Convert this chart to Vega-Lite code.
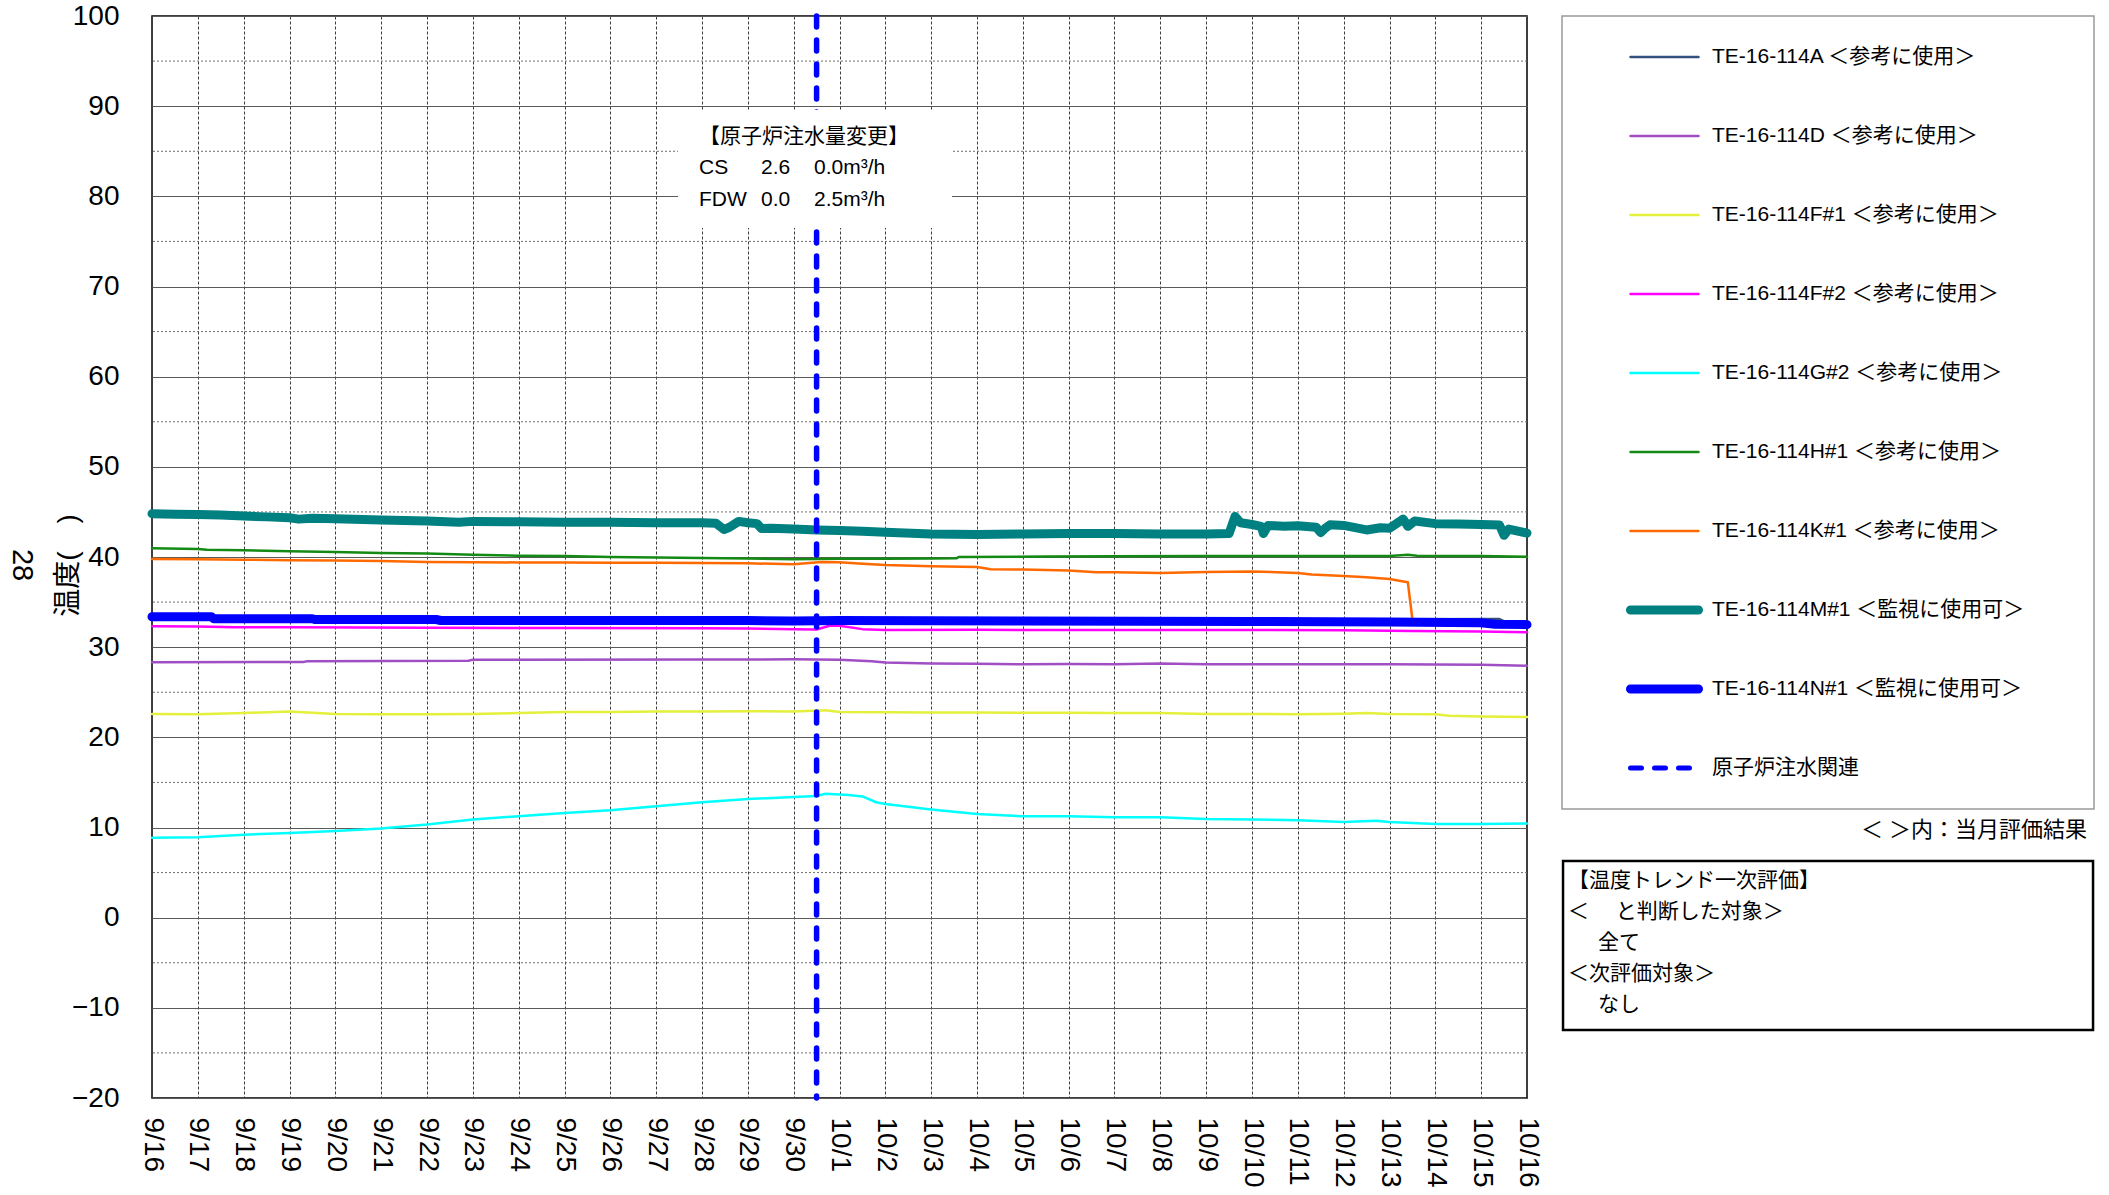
{
"$schema":"https://vega.github.io/schema/vega-lite/v6.json",
"width":1375,"height":1082,
"autosize":{"type":"none"},
"padding":{"left":152,"top":16,"right":582,"bottom":97},
"background":"white",
"config":{"font":"Liberation Sans, Noto Sans CJK JP","view":{"stroke":"#000","strokeWidth":1.5},"axis":{"domain":false,"ticks":false,"labelColor":"#000","labelFont":"Liberation Sans, Noto Sans CJK JP","titleFont":"Liberation Sans, Noto Sans CJK JP"}},
"layer":[
{"data":{"values":[{"minor":-15},{"minor":-5},{"minor":5},{"minor":15},{"minor":25},{"minor":35},{"minor":45},{"minor":55},{"minor":65},{"minor":75},{"minor":85},{"minor":95}]},
 "mark":{"type":"rule","color":"#6e6e6e","strokeWidth":1,"strokeDash":[2,2]},
 "encoding":{"y":{"field":"minor","type":"quantitative","title":"温度(　)"}}},
{"data":{"values":[{}]},
 "mark":{"type":"rect","fill":"white","stroke":"#9a9a9a","strokeWidth":1.5},
 "encoding":{"x":{"datum":{"year":2013,"month":10,"date":16,"hours":18,"minutes":20},"type":"temporal"},"x2":{"datum":{"year":2013,"month":10,"date":28,"hours":8,"minutes":54}},"y":{"datum":100,"type":"quantitative"},"y2":{"datum":12.05}}},
{"data":{"values":[
{"s":"TE-16-114A＜参考に使用＞","t":"2013-09-16T00:00","v":33.45},
{"s":"TE-16-114A＜参考に使用＞","t":"2013-09-20T00:00","v":33.25},
{"s":"TE-16-114A＜参考に使用＞","t":"2013-09-25T00:00","v":33.1},
{"s":"TE-16-114A＜参考に使用＞","t":"2013-10-01T00:00","v":33.05},
{"s":"TE-16-114A＜参考に使用＞","t":"2013-10-10T00:00","v":33.0},
{"s":"TE-16-114A＜参考に使用＞","t":"2013-10-13T12:00","v":33.1},
{"s":"TE-16-114A＜参考に使用＞","t":"2013-10-15T09:36","v":33.12},
{"s":"TE-16-114A＜参考に使用＞","t":"2013-10-15T12:00","v":32.85},
{"s":"TE-16-114A＜参考に使用＞","t":"2013-10-16T00:00","v":32.75},
{"s":"TE-16-114D＜参考に使用＞","t":"2013-09-16T00:00","v":28.33},
{"s":"TE-16-114D＜参考に使用＞","t":"2013-09-19T07:12","v":28.35},
{"s":"TE-16-114D＜参考に使用＞","t":"2013-09-19T09:36","v":28.45},
{"s":"TE-16-114D＜参考に使用＞","t":"2013-09-22T21:36","v":28.5},
{"s":"TE-16-114D＜参考に使用＞","t":"2013-09-23T00:00","v":28.6},
{"s":"TE-16-114D＜参考に使用＞","t":"2013-09-28T00:00","v":28.62},
{"s":"TE-16-114D＜参考に使用＞","t":"2013-09-30T00:00","v":28.65},
{"s":"TE-16-114D＜参考に使用＞","t":"2013-10-01T00:00","v":28.6},
{"s":"TE-16-114D＜参考に使用＞","t":"2013-10-01T16:48","v":28.45},
{"s":"TE-16-114D＜参考に使用＞","t":"2013-10-02T00:00","v":28.3},
{"s":"TE-16-114D＜参考に使用＞","t":"2013-10-03T00:00","v":28.2},
{"s":"TE-16-114D＜参考に使用＞","t":"2013-10-04T00:00","v":28.15},
{"s":"TE-16-114D＜参考に使用＞","t":"2013-10-05T00:00","v":28.1},
{"s":"TE-16-114D＜参考に使用＞","t":"2013-10-06T00:00","v":28.12},
{"s":"TE-16-114D＜参考に使用＞","t":"2013-10-07T00:00","v":28.1},
{"s":"TE-16-114D＜参考に使用＞","t":"2013-10-08T00:00","v":28.2},
{"s":"TE-16-114D＜参考に使用＞","t":"2013-10-09T00:00","v":28.1},
{"s":"TE-16-114D＜参考に使用＞","t":"2013-10-11T00:00","v":28.1},
{"s":"TE-16-114D＜参考に使用＞","t":"2013-10-13T00:00","v":28.1},
{"s":"TE-16-114D＜参考に使用＞","t":"2013-10-15T00:00","v":28.05},
{"s":"TE-16-114D＜参考に使用＞","t":"2013-10-16T00:00","v":27.95},
{"s":"TE-16-114F#1＜参考に使用＞","t":"2013-09-16T00:00","v":22.6},
{"s":"TE-16-114F#1＜参考に使用＞","t":"2013-09-17T00:00","v":22.55},
{"s":"TE-16-114F#1＜参考に使用＞","t":"2013-09-18T00:00","v":22.7},
{"s":"TE-16-114F#1＜参考に使用＞","t":"2013-09-19T00:00","v":22.87},
{"s":"TE-16-114F#1＜参考に使用＞","t":"2013-09-20T00:00","v":22.6},
{"s":"TE-16-114F#1＜参考に使用＞","t":"2013-09-21T00:00","v":22.55},
{"s":"TE-16-114F#1＜参考に使用＞","t":"2013-09-22T00:00","v":22.55},
{"s":"TE-16-114F#1＜参考に使用＞","t":"2013-09-23T00:00","v":22.6},
{"s":"TE-16-114F#1＜参考に使用＞","t":"2013-09-24T00:00","v":22.7},
{"s":"TE-16-114F#1＜参考に使用＞","t":"2013-09-25T00:00","v":22.8},
{"s":"TE-16-114F#1＜参考に使用＞","t":"2013-09-26T00:00","v":22.8},
{"s":"TE-16-114F#1＜参考に使用＞","t":"2013-09-27T00:00","v":22.87},
{"s":"TE-16-114F#1＜参考に使用＞","t":"2013-09-28T00:00","v":22.87},
{"s":"TE-16-114F#1＜参考に使用＞","t":"2013-09-29T00:00","v":22.9},
{"s":"TE-16-114F#1＜参考に使用＞","t":"2013-09-30T00:00","v":22.87},
{"s":"TE-16-114F#1＜参考に使用＞","t":"2013-09-30T16:48","v":23.0},
{"s":"TE-16-114F#1＜参考に使用＞","t":"2013-10-01T00:00","v":22.8},
{"s":"TE-16-114F#1＜参考に使用＞","t":"2013-10-02T00:00","v":22.78},
{"s":"TE-16-114F#1＜参考に使用＞","t":"2013-10-03T00:00","v":22.75},
{"s":"TE-16-114F#1＜参考に使用＞","t":"2013-10-04T00:00","v":22.75},
{"s":"TE-16-114F#1＜参考に使用＞","t":"2013-10-05T00:00","v":22.72},
{"s":"TE-16-114F#1＜参考に使用＞","t":"2013-10-06T00:00","v":22.72},
{"s":"TE-16-114F#1＜参考に使用＞","t":"2013-10-07T00:00","v":22.7},
{"s":"TE-16-114F#1＜参考に使用＞","t":"2013-10-08T00:00","v":22.7},
{"s":"TE-16-114F#1＜参考に使用＞","t":"2013-10-09T00:00","v":22.6},
{"s":"TE-16-114F#1＜参考に使用＞","t":"2013-10-10T00:00","v":22.6},
{"s":"TE-16-114F#1＜参考に使用＞","t":"2013-10-11T00:00","v":22.57},
{"s":"TE-16-114F#1＜参考に使用＞","t":"2013-10-12T00:00","v":22.62},
{"s":"TE-16-114F#1＜参考に使用＞","t":"2013-10-12T12:00","v":22.7},
{"s":"TE-16-114F#1＜参考に使用＞","t":"2013-10-13T00:00","v":22.6},
{"s":"TE-16-114F#1＜参考に使用＞","t":"2013-10-14T00:00","v":22.55},
{"s":"TE-16-114F#1＜参考に使用＞","t":"2013-10-14T07:12","v":22.4},
{"s":"TE-16-114F#1＜参考に使用＞","t":"2013-10-15T00:00","v":22.3},
{"s":"TE-16-114F#1＜参考に使用＞","t":"2013-10-16T00:00","v":22.25},
{"s":"TE-16-114F#2＜参考に使用＞","t":"2013-09-16T00:00","v":32.33},
{"s":"TE-16-114F#2＜参考に使用＞","t":"2013-09-17T00:00","v":32.3},
{"s":"TE-16-114F#2＜参考に使用＞","t":"2013-09-17T19:12","v":32.2},
{"s":"TE-16-114F#2＜参考に使用＞","t":"2013-09-19T00:00","v":32.2},
{"s":"TE-16-114F#2＜参考に使用＞","t":"2013-09-22T00:00","v":32.15},
{"s":"TE-16-114F#2＜参考に使用＞","t":"2013-09-25T00:00","v":32.12},
{"s":"TE-16-114F#2＜参考に使用＞","t":"2013-09-28T00:00","v":32.1},
{"s":"TE-16-114F#2＜参考に使用＞","t":"2013-09-29T00:00","v":32.07},
{"s":"TE-16-114F#2＜参考に使用＞","t":"2013-09-30T00:00","v":31.98},
{"s":"TE-16-114F#2＜参考に使用＞","t":"2013-09-30T12:00","v":31.96},
{"s":"TE-16-114F#2＜参考に使用＞","t":"2013-09-30T19:12","v":32.4},
{"s":"TE-16-114F#2＜参考に使用＞","t":"2013-10-01T00:00","v":32.37},
{"s":"TE-16-114F#2＜参考に使用＞","t":"2013-10-01T12:00","v":32.0},
{"s":"TE-16-114F#2＜参考に使用＞","t":"2013-10-02T00:00","v":31.9},
{"s":"TE-16-114F#2＜参考に使用＞","t":"2013-10-04T00:00","v":31.92},
{"s":"TE-16-114F#2＜参考に使用＞","t":"2013-10-06T00:00","v":31.9},
{"s":"TE-16-114F#2＜参考に使用＞","t":"2013-10-08T00:00","v":31.9},
{"s":"TE-16-114F#2＜参考に使用＞","t":"2013-10-10T00:00","v":31.9},
{"s":"TE-16-114F#2＜参考に使用＞","t":"2013-10-12T00:00","v":31.88},
{"s":"TE-16-114F#2＜参考に使用＞","t":"2013-10-13T12:00","v":31.8},
{"s":"TE-16-114F#2＜参考に使用＞","t":"2013-10-15T00:00","v":31.73},
{"s":"TE-16-114F#2＜参考に使用＞","t":"2013-10-16T00:00","v":31.65},
{"s":"TE-16-114G#2＜参考に使用＞","t":"2013-09-16T00:00","v":8.86},
{"s":"TE-16-114G#2＜参考に使用＞","t":"2013-09-17T00:00","v":8.93},
{"s":"TE-16-114G#2＜参考に使用＞","t":"2013-09-18T00:00","v":9.2},
{"s":"TE-16-114G#2＜参考に使用＞","t":"2013-09-19T00:00","v":9.4},
{"s":"TE-16-114G#2＜参考に使用＞","t":"2013-09-20T00:00","v":9.6},
{"s":"TE-16-114G#2＜参考に使用＞","t":"2013-09-21T00:00","v":9.9},
{"s":"TE-16-114G#2＜参考に使用＞","t":"2013-09-22T00:00","v":10.33},
{"s":"TE-16-114G#2＜参考に使用＞","t":"2013-09-23T00:00","v":10.9},
{"s":"TE-16-114G#2＜参考に使用＞","t":"2013-09-24T00:00","v":11.25},
{"s":"TE-16-114G#2＜参考に使用＞","t":"2013-09-25T00:00","v":11.6},
{"s":"TE-16-114G#2＜参考に使用＞","t":"2013-09-26T00:00","v":11.9},
{"s":"TE-16-114G#2＜参考に使用＞","t":"2013-09-27T00:00","v":12.35},
{"s":"TE-16-114G#2＜参考に使用＞","t":"2013-09-28T00:00","v":12.8},
{"s":"TE-16-114G#2＜参考に使用＞","t":"2013-09-29T00:00","v":13.15},
{"s":"TE-16-114G#2＜参考に使用＞","t":"2013-09-30T00:00","v":13.38},
{"s":"TE-16-114G#2＜参考に使用＞","t":"2013-09-30T12:00","v":13.5},
{"s":"TE-16-114G#2＜参考に使用＞","t":"2013-09-30T16:48","v":13.75},
{"s":"TE-16-114G#2＜参考に使用＞","t":"2013-10-01T04:48","v":13.6},
{"s":"TE-16-114G#2＜参考に使用＞","t":"2013-10-01T12:00","v":13.45},
{"s":"TE-16-114G#2＜参考に使用＞","t":"2013-10-01T19:12","v":12.8},
{"s":"TE-16-114G#2＜参考に使用＞","t":"2013-10-02T00:00","v":12.6},
{"s":"TE-16-114G#2＜参考に使用＞","t":"2013-10-03T00:00","v":12.0},
{"s":"TE-16-114G#2＜参考に使用＞","t":"2013-10-04T00:00","v":11.5},
{"s":"TE-16-114G#2＜参考に使用＞","t":"2013-10-05T00:00","v":11.25},
{"s":"TE-16-114G#2＜参考に使用＞","t":"2013-10-06T00:00","v":11.25},
{"s":"TE-16-114G#2＜参考に使用＞","t":"2013-10-07T00:00","v":11.14},
{"s":"TE-16-114G#2＜参考に使用＞","t":"2013-10-08T00:00","v":11.14},
{"s":"TE-16-114G#2＜参考に使用＞","t":"2013-10-09T00:00","v":10.95},
{"s":"TE-16-114G#2＜参考に使用＞","t":"2013-10-10T00:00","v":10.9},
{"s":"TE-16-114G#2＜参考に使用＞","t":"2013-10-11T00:00","v":10.8},
{"s":"TE-16-114G#2＜参考に使用＞","t":"2013-10-12T00:00","v":10.6},
{"s":"TE-16-114G#2＜参考に使用＞","t":"2013-10-12T16:48","v":10.75},
{"s":"TE-16-114G#2＜参考に使用＞","t":"2013-10-13T00:00","v":10.6},
{"s":"TE-16-114G#2＜参考に使用＞","t":"2013-10-14T00:00","v":10.4},
{"s":"TE-16-114G#2＜参考に使用＞","t":"2013-10-15T00:00","v":10.4},
{"s":"TE-16-114G#2＜参考に使用＞","t":"2013-10-16T00:00","v":10.45},
{"s":"TE-16-114H#1＜参考に使用＞","t":"2013-09-16T00:00","v":40.96},
{"s":"TE-16-114H#1＜参考に使用＞","t":"2013-09-17T00:00","v":40.9},
{"s":"TE-16-114H#1＜参考に使用＞","t":"2013-09-17T04:48","v":40.8},
{"s":"TE-16-114H#1＜参考に使用＞","t":"2013-09-18T00:00","v":40.75},
{"s":"TE-16-114H#1＜参考に使用＞","t":"2013-09-19T00:00","v":40.65},
{"s":"TE-16-114H#1＜参考に使用＞","t":"2013-09-20T00:00","v":40.55},
{"s":"TE-16-114H#1＜参考に使用＞","t":"2013-09-21T00:00","v":40.45},
{"s":"TE-16-114H#1＜参考に使用＞","t":"2013-09-22T00:00","v":40.4},
{"s":"TE-16-114H#1＜参考に使用＞","t":"2013-09-23T00:00","v":40.25},
{"s":"TE-16-114H#1＜参考に使用＞","t":"2013-09-24T00:00","v":40.15},
{"s":"TE-16-114H#1＜参考に使用＞","t":"2013-09-25T00:00","v":40.1},
{"s":"TE-16-114H#1＜参考に使用＞","t":"2013-09-26T00:00","v":40.0},
{"s":"TE-16-114H#1＜参考に使用＞","t":"2013-09-27T00:00","v":39.95},
{"s":"TE-16-114H#1＜参考に使用＞","t":"2013-09-28T00:00","v":39.9},
{"s":"TE-16-114H#1＜参考に使用＞","t":"2013-09-29T00:00","v":39.82},
{"s":"TE-16-114H#1＜参考に使用＞","t":"2013-09-30T00:00","v":39.75},
{"s":"TE-16-114H#1＜参考に使用＞","t":"2013-10-01T00:00","v":39.8},
{"s":"TE-16-114H#1＜参考に使用＞","t":"2013-10-02T00:00","v":39.8},
{"s":"TE-16-114H#1＜参考に使用＞","t":"2013-10-03T00:00","v":39.82},
{"s":"TE-16-114H#1＜参考に使用＞","t":"2013-10-03T13:12","v":39.85},
{"s":"TE-16-114H#1＜参考に使用＞","t":"2013-10-03T14:24","v":40.0},
{"s":"TE-16-114H#1＜参考に使用＞","t":"2013-10-05T12:00","v":40.05},
{"s":"TE-16-114H#1＜参考に使用＞","t":"2013-10-07T00:00","v":40.08},
{"s":"TE-16-114H#1＜参考に使用＞","t":"2013-10-09T00:00","v":40.1},
{"s":"TE-16-114H#1＜参考に使用＞","t":"2013-10-11T00:00","v":40.1},
{"s":"TE-16-114H#1＜参考に使用＞","t":"2013-10-13T00:00","v":40.12},
{"s":"TE-16-114H#1＜参考に使用＞","t":"2013-10-13T09:36","v":40.26},
{"s":"TE-16-114H#1＜参考に使用＞","t":"2013-10-13T14:24","v":40.15},
{"s":"TE-16-114H#1＜参考に使用＞","t":"2013-10-14T00:00","v":40.12},
{"s":"TE-16-114H#1＜参考に使用＞","t":"2013-10-15T00:00","v":40.1},
{"s":"TE-16-114H#1＜参考に使用＞","t":"2013-10-16T00:00","v":40.04},
{"s":"TE-16-114K#1＜参考に使用＞","t":"2013-09-16T00:00","v":39.78},
{"s":"TE-16-114K#1＜参考に使用＞","t":"2013-09-17T00:00","v":39.75},
{"s":"TE-16-114K#1＜参考に使用＞","t":"2013-09-18T00:00","v":39.7},
{"s":"TE-16-114K#1＜参考に使用＞","t":"2013-09-19T00:00","v":39.65},
{"s":"TE-16-114K#1＜参考に使用＞","t":"2013-09-20T00:00","v":39.6},
{"s":"TE-16-114K#1＜参考に使用＞","t":"2013-09-21T00:00","v":39.55},
{"s":"TE-16-114K#1＜参考に使用＞","t":"2013-09-22T00:00","v":39.45},
{"s":"TE-16-114K#1＜参考に使用＞","t":"2013-09-23T00:00","v":39.42},
{"s":"TE-16-114K#1＜参考に使用＞","t":"2013-09-24T00:00","v":39.4},
{"s":"TE-16-114K#1＜参考に使用＞","t":"2013-09-25T00:00","v":39.4},
{"s":"TE-16-114K#1＜参考に使用＞","t":"2013-09-26T00:00","v":39.37},
{"s":"TE-16-114K#1＜参考に使用＞","t":"2013-09-27T00:00","v":39.35},
{"s":"TE-16-114K#1＜参考に使用＞","t":"2013-09-28T00:00","v":39.33},
{"s":"TE-16-114K#1＜参考に使用＞","t":"2013-09-29T00:00","v":39.3},
{"s":"TE-16-114K#1＜参考に使用＞","t":"2013-09-30T00:00","v":39.2},
{"s":"TE-16-114K#1＜参考に使用＞","t":"2013-09-30T14:24","v":39.45},
{"s":"TE-16-114K#1＜参考に使用＞","t":"2013-10-01T00:00","v":39.43},
{"s":"TE-16-114K#1＜参考に使用＞","t":"2013-10-01T12:00","v":39.25},
{"s":"TE-16-114K#1＜参考に使用＞","t":"2013-10-02T00:00","v":39.1},
{"s":"TE-16-114K#1＜参考に使用＞","t":"2013-10-03T00:00","v":38.98},
{"s":"TE-16-114K#1＜参考に使用＞","t":"2013-10-04T00:00","v":38.9},
{"s":"TE-16-114K#1＜参考に使用＞","t":"2013-10-04T07:12","v":38.65},
{"s":"TE-16-114K#1＜参考に使用＞","t":"2013-10-05T00:00","v":38.6},
{"s":"TE-16-114K#1＜参考に使用＞","t":"2013-10-06T00:00","v":38.5},
{"s":"TE-16-114K#1＜参考に使用＞","t":"2013-10-06T14:24","v":38.3},
{"s":"TE-16-114K#1＜参考に使用＞","t":"2013-10-07T00:00","v":38.3},
{"s":"TE-16-114K#1＜参考に使用＞","t":"2013-10-08T00:00","v":38.23},
{"s":"TE-16-114K#1＜参考に使用＞","t":"2013-10-09T00:00","v":38.35},
{"s":"TE-16-114K#1＜参考に使用＞","t":"2013-10-10T00:00","v":38.4},
{"s":"TE-16-114K#1＜参考に使用＞","t":"2013-10-11T00:00","v":38.23},
{"s":"TE-16-114K#1＜参考に使用＞","t":"2013-10-11T07:12","v":38.05},
{"s":"TE-16-114K#1＜参考に使用＞","t":"2013-10-12T00:00","v":37.9},
{"s":"TE-16-114K#1＜参考に使用＞","t":"2013-10-12T12:00","v":37.75},
{"s":"TE-16-114K#1＜参考に使用＞","t":"2013-10-13T00:00","v":37.55},
{"s":"TE-16-114K#1＜参考に使用＞","t":"2013-10-13T09:36","v":37.2},
{"s":"TE-16-114K#1＜参考に使用＞","t":"2013-10-13T12:00","v":33.05},
{"s":"TE-16-114M#1＜監視に使用可＞","t":"2013-09-16T00:00","v":44.8},
{"s":"TE-16-114M#1＜監視に使用可＞","t":"2013-09-16T12:00","v":44.75},
{"s":"TE-16-114M#1＜監視に使用可＞","t":"2013-09-17T00:00","v":44.7},
{"s":"TE-16-114M#1＜監視に使用可＞","t":"2013-09-17T12:00","v":44.65},
{"s":"TE-16-114M#1＜監視に使用可＞","t":"2013-09-18T00:00","v":44.55},
{"s":"TE-16-114M#1＜監視に使用可＞","t":"2013-09-18T12:00","v":44.45},
{"s":"TE-16-114M#1＜監視に使用可＞","t":"2013-09-19T00:00","v":44.35},
{"s":"TE-16-114M#1＜監視に使用可＞","t":"2013-09-19T04:48","v":44.2},
{"s":"TE-16-114M#1＜監視に使用可＞","t":"2013-09-19T12:00","v":44.3},
{"s":"TE-16-114M#1＜監視に使用可＞","t":"2013-09-20T00:00","v":44.25},
{"s":"TE-16-114M#1＜監視に使用可＞","t":"2013-09-21T00:00","v":44.1},
{"s":"TE-16-114M#1＜監視に使用可＞","t":"2013-09-22T00:00","v":44.0},
{"s":"TE-16-114M#1＜監視に使用可＞","t":"2013-09-22T16:48","v":43.85},
{"s":"TE-16-114M#1＜監視に使用可＞","t":"2013-09-23T00:00","v":43.95},
{"s":"TE-16-114M#1＜監視に使用可＞","t":"2013-09-24T00:00","v":43.9},
{"s":"TE-16-114M#1＜監視に使用可＞","t":"2013-09-25T00:00","v":43.85},
{"s":"TE-16-114M#1＜監視に使用可＞","t":"2013-09-26T00:00","v":43.85},
{"s":"TE-16-114M#1＜監視に使用可＞","t":"2013-09-27T00:00","v":43.8},
{"s":"TE-16-114M#1＜監視に使用可＞","t":"2013-09-28T00:00","v":43.8},
{"s":"TE-16-114M#1＜監視に使用可＞","t":"2013-09-28T07:12","v":43.75},
{"s":"TE-16-114M#1＜監視に使用可＞","t":"2013-09-28T11:30","v":43.05},
{"s":"TE-16-114M#1＜監視に使用可＞","t":"2013-09-28T14:24","v":43.3},
{"s":"TE-16-114M#1＜監視に使用可＞","t":"2013-09-28T19:12","v":43.95},
{"s":"TE-16-114M#1＜監視に使用可＞","t":"2013-09-29T00:00","v":43.8},
{"s":"TE-16-114M#1＜監視に使用可＞","t":"2013-09-29T04:48","v":43.7},
{"s":"TE-16-114M#1＜監視に使用可＞","t":"2013-09-29T07:12","v":43.15},
{"s":"TE-16-114M#1＜監視に使用可＞","t":"2013-09-29T12:00","v":43.2},
{"s":"TE-16-114M#1＜監視に使用可＞","t":"2013-09-30T00:00","v":43.1},
{"s":"TE-16-114M#1＜監視に使用可＞","t":"2013-09-30T12:00","v":43.0},
{"s":"TE-16-114M#1＜監視に使用可＞","t":"2013-10-01T00:00","v":42.95},
{"s":"TE-16-114M#1＜監視に使用可＞","t":"2013-10-01T12:00","v":42.85},
{"s":"TE-16-114M#1＜監視に使用可＞","t":"2013-10-02T00:00","v":42.75},
{"s":"TE-16-114M#1＜監視に使用可＞","t":"2013-10-03T00:00","v":42.56},
{"s":"TE-16-114M#1＜監視に使用可＞","t":"2013-10-04T00:00","v":42.5},
{"s":"TE-16-114M#1＜監視に使用可＞","t":"2013-10-05T00:00","v":42.55},
{"s":"TE-16-114M#1＜監視に使用可＞","t":"2013-10-06T00:00","v":42.6},
{"s":"TE-16-114M#1＜監視に使用可＞","t":"2013-10-07T00:00","v":42.6},
{"s":"TE-16-114M#1＜監視に使用可＞","t":"2013-10-08T00:00","v":42.55},
{"s":"TE-16-114M#1＜監視に使用可＞","t":"2013-10-09T00:00","v":42.56},
{"s":"TE-16-114M#1＜監視に使用可＞","t":"2013-10-09T12:00","v":42.6},
{"s":"TE-16-114M#1＜監視に使用可＞","t":"2013-10-09T15:07","v":44.5},
{"s":"TE-16-114M#1＜監視に使用可＞","t":"2013-10-09T18:00","v":43.8},
{"s":"TE-16-114M#1＜監視に使用可＞","t":"2013-10-10T00:00","v":43.6},
{"s":"TE-16-114M#1＜監視に使用可＞","t":"2013-10-10T04:48","v":43.4},
{"s":"TE-16-114M#1＜監視に使用可＞","t":"2013-10-10T06:00","v":42.6},
{"s":"TE-16-114M#1＜監視に使用可＞","t":"2013-10-10T08:24","v":43.5},
{"s":"TE-16-114M#1＜監視に使用可＞","t":"2013-10-10T16:48","v":43.4},
{"s":"TE-16-114M#1＜監視に使用可＞","t":"2013-10-11T00:00","v":43.46},
{"s":"TE-16-114M#1＜監視に使用可＞","t":"2013-10-11T09:36","v":43.3},
{"s":"TE-16-114M#1＜監視に使用可＞","t":"2013-10-11T12:00","v":42.7},
{"s":"TE-16-114M#1＜監視に使用可＞","t":"2013-10-11T14:24","v":43.2},
{"s":"TE-16-114M#1＜監視に使用可＞","t":"2013-10-11T16:48","v":43.57},
{"s":"TE-16-114M#1＜監視に使用可＞","t":"2013-10-12T00:00","v":43.5},
{"s":"TE-16-114M#1＜監視に使用可＞","t":"2013-10-12T12:00","v":43.0},
{"s":"TE-16-114M#1＜監視に使用可＞","t":"2013-10-12T19:12","v":43.25},
{"s":"TE-16-114M#1＜監視に使用可＞","t":"2013-10-13T00:00","v":43.2},
{"s":"TE-16-114M#1＜監視に使用可＞","t":"2013-10-13T07:12","v":44.2},
{"s":"TE-16-114M#1＜監視に使用可＞","t":"2013-10-13T09:36","v":43.4},
{"s":"TE-16-114M#1＜監視に使用可＞","t":"2013-10-13T13:12","v":44.0},
{"s":"TE-16-114M#1＜監視に使用可＞","t":"2013-10-14T00:00","v":43.7},
{"s":"TE-16-114M#1＜監視に使用可＞","t":"2013-10-14T12:00","v":43.65},
{"s":"TE-16-114M#1＜監視に使用可＞","t":"2013-10-15T00:00","v":43.6},
{"s":"TE-16-114M#1＜監視に使用可＞","t":"2013-10-15T09:36","v":43.55},
{"s":"TE-16-114M#1＜監視に使用可＞","t":"2013-10-15T12:00","v":42.4},
{"s":"TE-16-114M#1＜監視に使用可＞","t":"2013-10-15T14:24","v":43.1},
{"s":"TE-16-114M#1＜監視に使用可＞","t":"2013-10-16T00:00","v":42.65},
{"s":"TE-16-114N#1＜監視に使用可＞","t":"2013-09-16T00:00","v":33.37},
{"s":"TE-16-114N#1＜監視に使用可＞","t":"2013-09-17T07:12","v":33.37},
{"s":"TE-16-114N#1＜監視に使用可＞","t":"2013-09-17T08:24","v":33.15},
{"s":"TE-16-114N#1＜監視に使用可＞","t":"2013-09-19T12:00","v":33.15},
{"s":"TE-16-114N#1＜監視に使用可＞","t":"2013-09-19T13:12","v":33.07},
{"s":"TE-16-114N#1＜監視に使用可＞","t":"2013-09-22T04:48","v":33.07},
{"s":"TE-16-114N#1＜監視に使用可＞","t":"2013-09-22T07:12","v":32.96},
{"s":"TE-16-114N#1＜監視に使用可＞","t":"2013-09-29T00:00","v":32.96},
{"s":"TE-16-114N#1＜監視に使用可＞","t":"2013-09-30T00:00","v":32.9},
{"s":"TE-16-114N#1＜監視に使用可＞","t":"2013-10-01T00:00","v":32.95},
{"s":"TE-16-114N#1＜監視に使用可＞","t":"2013-10-05T00:00","v":32.9},
{"s":"TE-16-114N#1＜監視に使用可＞","t":"2013-10-10T00:00","v":32.85},
{"s":"TE-16-114N#1＜監視に使用可＞","t":"2013-10-13T00:00","v":32.8},
{"s":"TE-16-114N#1＜監視に使用可＞","t":"2013-10-15T00:00","v":32.7},
{"s":"TE-16-114N#1＜監視に使用可＞","t":"2013-10-15T07:12","v":32.55},
{"s":"TE-16-114N#1＜監視に使用可＞","t":"2013-10-16T00:00","v":32.5}
]},
 "mark":{"type":"line","strokeJoin":"round","strokeCap":"round"},
 "encoding":{
  "x":{"field":"t","type":"temporal","title":null,
   "scale":{"domain":[{"year":2013,"month":9,"date":16},{"year":2013,"month":10,"date":16}]},
   "axis":{"format":"%-m/%-d","tickCount":{"interval":"day","step":1},"labelAngle":90,"labelAlign":"left","labelBaseline":"middle","labelPadding":19,"labelFontSize":28,"labelOverlap":false,"labelFlush":false,"grid":true,"gridColor":"#3c3c3c","gridDash":[3,2],"gridWidth":1}},
  "y":{"field":"v","type":"quantitative","title":"温度(　)",
   "scale":{"domain":[-20,100],"nice":false,"zero":false},
   "axis":{"values":[-20,-10,0,10,20,30,40,50,60,70,80,90,100],"labelFont":"Liberation Sans Narrow, Liberation Sans","labelFontSize":28,"labelPadding":33,"grid":true,"gridColor":"#5a5a5a","gridWidth":1,"titleX":-84,"titleY":549,"titleAlign":"center","titleBaseline":"middle","titleFontSize":28,"titleFontWeight":"normal","titleColor":"#000"}},
  "color":{"field":"s","type":"nominal",
   "scale":{"domain":["TE-16-114A＜参考に使用＞","TE-16-114D＜参考に使用＞","TE-16-114F#1＜参考に使用＞","TE-16-114F#2＜参考に使用＞","TE-16-114G#2＜参考に使用＞","TE-16-114H#1＜参考に使用＞","TE-16-114K#1＜参考に使用＞","TE-16-114M#1＜監視に使用可＞","TE-16-114N#1＜監視に使用可＞","原子炉注水関連"],
    "range":["#34507f","#a04ec4","#e4f03c","#ff00ff","#00ffff","#148a14","#ff6a00","#008080","#0000ff","#0000ff"]},
   "legend":{"orient":"none","legendX":1410,"legendY":0,"title":null,"symbolType":"stroke","symbolSize":4624,"symbolStrokeWidth":8,"clipHeight":20,"rowPadding":58,"padding":31,"symbolOffset":33,"labelOffset":9,"labelFontSize":21,"labelFont":"Liberation Sans, Noto Sans CJK JP","labelColor":"#000","labelLimit":0,"labelExpr":"replace(datum.label, '＜', ' ＜')",
    "encode":{"symbols":{"update":{"strokeCap":{"value":"round"},
      "strokeWidth":{"signal":"datum.value === '原子炉注水関連' ? 5 : (indexof(datum.value, '監視') >= 0 ? 9 : 2.5)"},
      "strokeDash":{"signal":"datum.value === '原子炉注水関連' ? [11,13] : [1,0]"}}}}}},
  "strokeWidth":{"field":"s","type":"nominal","legend":null,
   "scale":{"type":"ordinal","domain":["TE-16-114A＜参考に使用＞","TE-16-114D＜参考に使用＞","TE-16-114F#1＜参考に使用＞","TE-16-114F#2＜参考に使用＞","TE-16-114G#2＜参考に使用＞","TE-16-114H#1＜参考に使用＞","TE-16-114K#1＜参考に使用＞","TE-16-114M#1＜監視に使用可＞","TE-16-114N#1＜監視に使用可＞","原子炉注水関連"],
    "range":[2.5,2.5,2.5,2.5,2.5,2.5,2.5,9,9,5]}}
 }},
{"data":{"values":[{"s":"原子炉注水関連","t":"2013-09-30T12:00"}]},
 "mark":{"type":"rule","strokeCap":"round","strokeWidth":5.5,"strokeDash":[11,13]},
 "encoding":{"x":{"field":"t","type":"temporal"},"color":{"field":"s","type":"nominal"}}},
{"data":{"values":[{}]},
 "mark":{"type":"rect","fill":"white","strokeWidth":0},
 "encoding":{"x":{"datum":{"year":2013,"month":9,"date":27,"hours":11,"minutes":27},"type":"temporal"},"x2":{"datum":{"year":2013,"month":10,"date":3,"hours":10,"minutes":55}},"y":{"datum":89.57,"type":"quantitative"},"y2":{"datum":76.49}}},
{"data":{"values":[{}]},
 "mark":{"type":"text","align":"left","baseline":"middle","fontSize":21,"lineHeight":31.5,"color":"#000"},
 "encoding":{"x":{"datum":{"year":2013,"month":9,"date":27,"hours":22,"minutes":26},"type":"temporal"},"y":{"datum":86.6,"type":"quantitative"},"text":{"value":["【原子炉注水量変更】","CS","FDW"]}}},
{"data":{"values":[{}]},
 "mark":{"type":"text","align":"left","baseline":"middle","fontSize":21,"lineHeight":31.5,"color":"#000"},
 "encoding":{"x":{"datum":{"year":2013,"month":9,"date":29,"hours":6,"minutes":54},"type":"temporal"},"y":{"datum":83.1,"type":"quantitative"},"text":{"value":["2.6","0.0"]}}},
{"data":{"values":[{}]},
 "mark":{"type":"text","align":"left","baseline":"middle","fontSize":21,"lineHeight":31.5,"color":"#000"},
 "encoding":{"x":{"datum":{"year":2013,"month":9,"date":30,"hours":10,"minutes":39},"type":"temporal"},"y":{"datum":83.1,"type":"quantitative"},"text":{"value":["0.0m³/h","2.5m³/h"]}}},
{"data":{"values":[{}]},
 "mark":{"type":"text","align":"center","baseline":"middle","fontSize":29,"angle":90,"color":"#000"},
 "encoding":{"x":{"datum":{"year":2013,"month":9,"date":13,"hours":3,"minutes":56},"type":"temporal"},"y":{"datum":39.11,"type":"quantitative"},"text":{"value":"28"}}},
{"data":{"values":[{}]},
 "mark":{"type":"rect","fill":"white","stroke":"#000","strokeWidth":2.5},
 "encoding":{"x":{"datum":{"year":2013,"month":10,"date":16,"hours":18,"minutes":52},"type":"temporal"},"x2":{"datum":{"year":2013,"month":10,"date":28,"hours":8,"minutes":24}},"y":{"datum":6.29,"type":"quantitative"},"y2":{"datum":-12.46}}},
{"data":{"values":[{}]},
 "mark":{"type":"text","align":"left","baseline":"middle","fontSize":21,"lineHeight":31,"color":"#000"},
 "encoding":{"x":{"datum":{"year":2013,"month":10,"date":16,"hours":21,"minutes":29},"type":"temporal"},"y":{"datum":4.07,"type":"quantitative"},"text":{"value":["【温度トレンド一次評価】","＜　 と判断した対象＞"]}}},
{"data":{"values":[{}]},
 "mark":{"type":"text","align":"left","baseline":"middle","fontSize":21,"color":"#000"},
 "encoding":{"x":{"datum":{"year":2013,"month":10,"date":17,"hours":13,"minutes":12},"type":"temporal"},"y":{"datum":-2.81,"type":"quantitative"},"text":{"value":"全て"}}},
{"data":{"values":[{}]},
 "mark":{"type":"text","align":"left","baseline":"middle","fontSize":21,"color":"#000"},
 "encoding":{"x":{"datum":{"year":2013,"month":10,"date":16,"hours":21,"minutes":29},"type":"temporal"},"y":{"datum":-6.25,"type":"quantitative"},"text":{"value":"＜次評価対象＞"}}},
{"data":{"values":[{}]},
 "mark":{"type":"text","align":"left","baseline":"middle","fontSize":21,"color":"#000"},
 "encoding":{"x":{"datum":{"year":2013,"month":10,"date":17,"hours":13,"minutes":12},"type":"temporal"},"y":{"datum":-9.68,"type":"quantitative"},"text":{"value":"なし"}}},
{"data":{"values":[{}]},
 "mark":{"type":"text","align":"right","baseline":"middle","fontSize":22,"color":"#000"},
 "encoding":{"x":{"datum":{"year":2013,"month":10,"date":28,"hours":5,"minutes":17},"type":"temporal"},"y":{"datum":9.72,"type":"quantitative"},"text":{"value":"＜ ＞内：当月評価結果"}}}
]
}
